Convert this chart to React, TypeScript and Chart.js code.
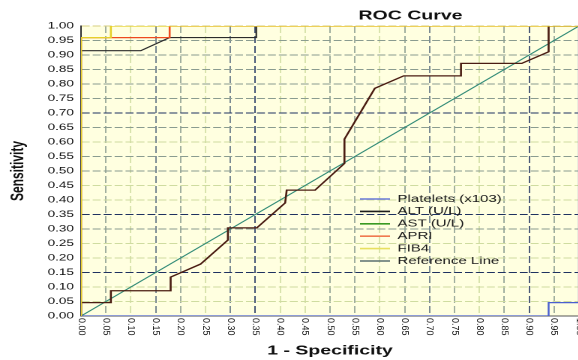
import { useEffect, useRef } from 'react';
import { Chart, registerables } from 'chart.js';

Chart.register(...registerables);

// ---------- data ----------
const seriesNames = ['Platelets (x103)', 'ALT (U/L)', 'AST (U/L)', 'APRI', 'FIB4', 'Reference Line'];

const plateletsFpr = [0, 0.939, 0.939, 1, 1];
const plateletsTpr = [0, 0, 0.046, 0.046, 1];

const altFpr = [0, 0, 0.06, 0.06, 0.18, 0.18, 0.24, 0.295, 0.295, 0.353, 0.41, 0.413, 0.47, 0.529, 0.529, 0.59, 0.648, 0.763, 0.763, 0.885, 0.939, 0.939, 1];
const altTpr = [0, 0.046, 0.046, 0.087, 0.087, 0.134, 0.179, 0.262, 0.304, 0.304, 0.39, 0.434, 0.434, 0.526, 0.61, 0.785, 0.828, 0.828, 0.871, 0.871, 0.911, 1, 1];

const astFpr = [0, 0, 0.12, 0.178, 0.352, 0.352, 1];
const astTpr = [0, 0.915, 0.915, 0.96, 0.96, 1, 1];

const apriFpr = [0, 0, 0.178, 0.178, 1];
const apriTpr = [0, 0.96, 0.96, 1, 1];

const fib4Fpr = [0, 0, 0.06, 0.06, 1];
const fib4Tpr = [0, 0.96, 0.96, 1, 1];

const refFpr = [0, 1];
const refTpr = [0, 1];

// ---------- styles ----------
const S = 1.5; // horizontal stretch of the whole picture
const FONT = "'Liberation Sans', Arial, sans-serif";
const CHART_W = 392;
const CHART_H = 360;

const lineColors = ['#4a5fd0', '#4a1c12', '#2b2b2b', '#ee4a1e', '#e6d02a', '#2f8a76'];
const legendColors = ['#6a7ad8', '#1c1c1c', '#3a9a22', '#f07a50', '#e8e060', '#5a7070'];
const lineWidths = [1.2, 1.3, 1.1, 1.3, 1.3, 1];
const drawOrder = [1, 2, 4, 3, 0, 5];

const gridPalette: Record<string, string> = {
  none: 'rgba(0,0,0,0)',
  L: '#cfdca0',
  G: '#8a9c90',
  M: '#5a6e80',
  D: '#1e3160',
  T: '#d8d080',
};
const xGridKinds = ['none', 'G', 'L', 'M', 'G', 'L', 'M', 'D', 'L', 'L', 'G', 'G', 'L', 'G', 'M', 'G', 'L', 'G', 'D', 'G', 'G'];
const yGridKinds = ['none', 'L', 'L', 'D', 'L', 'L', 'G', 'D', 'L', 'L', 'G', 'G', 'L', 'G', 'D', 'G', 'G', 'G', 'G', 'G', 'T'];

const TITLE_CX = 273.7;
const LEGEND_LEFT = 237.6;
const LEGEND_TOP = 191.6;

const customPlugin = {
  id: 'rocCustom',
  afterLayout(chart: any) {
    const t = chart.titleBlock;
    if (t) {
      const w = t.right - t.left;
      t.left = TITLE_CX - w / 2;
      t.right = t.left + w;
    }
    const lg = chart.legend;
    if (lg) {
      const w = lg.width;
      const h = lg.height;
      lg.left = LEGEND_LEFT;
      lg.top = LEGEND_TOP;
      lg.right = lg.left + w;
      lg.bottom = lg.top + h;
    }
  },
  beforeDraw(chart: any) {
    const { ctx, chartArea: a } = chart;
    ctx.save();
    ctx.fillStyle = '#ffffff';
    ctx.fillRect(0, 0, chart.width, chart.height);
    ctx.fillStyle = '#ffffe0';
    ctx.fillRect(a.left, a.top, a.right - a.left, a.bottom - a.top);
    ctx.restore();
  },
  afterDraw(chart: any) {
    const xs = chart.scales.x;
    const ctx = chart.ctx;
    ctx.save();
    ctx.fillStyle = '#111111';
    ctx.font = `9px ${FONT}`;
    ctx.textAlign = 'left';
    ctx.textBaseline = 'middle';
    xs.ticks.forEach((t: any) => {
      const px = xs.getPixelForValue(t.value);
      ctx.save();
      ctx.translate(px, xs.top + 2);
      ctx.scale(1 / S, 1);
      ctx.rotate(Math.PI / 2);
      ctx.fillText(Number(t.value).toFixed(2), 0, 0);
      ctx.restore();
    });
    ctx.restore();
  },
};

export default function App() {
  const ref = useRef<HTMLCanvasElement>(null);

  useEffect(() => {
    const canvas = ref.current;
    if (!canvas) return;
    Chart.defaults.font.family = FONT;

    const pts = (xs: number[], ys: number[]) => xs.map((x, i) => ({ x, y: ys[i] }));
    const series = [
      [plateletsFpr, plateletsTpr],
      [altFpr, altTpr],
      [astFpr, astTpr],
      [apriFpr, apriTpr],
      [fib4Fpr, fib4Tpr],
      [refFpr, refTpr],
    ];
    const datasets = series.map(([xs, ys], i) => ({
      label: seriesNames[i],
      data: pts(xs, ys),
      borderColor: lineColors[i],
      backgroundColor: lineColors[i],
      borderWidth: lineWidths[i],
      pointRadius: 0,
      pointHoverRadius: 0,
      tension: 0,
      fill: false,
      order: drawOrder[i],
    }));

    const chart = new Chart(canvas, {
      type: 'line',
      data: { datasets },
      plugins: [customPlugin],
      options: {
        animation: false,
        responsive: true,
        maintainAspectRatio: false,
        devicePixelRatio: 2,
        events: [],
        layout: { padding: { left: 0, right: 6, top: 0, bottom: 0 } },
        plugins: {
          title: {
            display: true,
            text: 'ROC Curve',
            color: '#111111',
            font: { family: FONT, size: 13, weight: 'bold' },
            padding: { top: 8.2, bottom: 2.2 },
          },
          legend: {
            position: 'chartArea',
            align: 'start',
            labels: {
              usePointStyle: true,
              pointStyle: 'line',
              pointStyleWidth: 20,
              boxHeight: 10,
              padding: 2.4,
              color: '#1a1a1a',
              font: { family: FONT, size: 10 },
              generateLabels: (c: any) =>
                Chart.defaults.plugins.legend.labels.generateLabels(c).map((it: any) => ({
                  ...it,
                  strokeStyle: legendColors[it.datasetIndex],
                  fillStyle: legendColors[it.datasetIndex],
                  lineWidth: 1.6,
                  pointStyle: 'line',
                })),
              sort: (a: any, b: any) => a.datasetIndex - b.datasetIndex,
            },
          },
          tooltip: { enabled: false },
        },
        scales: {
          x: {
            type: 'linear',
            min: 0,
            max: 1,
            ticks: { display: false, stepSize: 0.05 },
            grid: {
              color: (ctx: any) => gridPalette[xGridKinds[ctx.index] || 'G'],
              lineWidth: 0.8,
              drawTicks: false,
            },
            border: { display: true, color: '#555555', width: 1, dash: [7, 3] },
            title: {
              display: true,
              text: '1 - Specificity',
              color: '#111111',
              font: { family: FONT, size: 13, weight: 'bold' },
              padding: { top: 0, bottom: 1.2 },
            },
            afterFit: (s: any) => {
              s.height = 44;
            },
          },
          y: {
            type: 'linear',
            min: 0,
            max: 1,
            ticks: {
              stepSize: 0.05,
              padding: 4.7,
              color: '#111111',
              font: { family: FONT, size: 9 },
              callback: (v: any) => Number(v).toFixed(2),
            },
            grid: {
              color: (ctx: any) => gridPalette[yGridKinds[ctx.index] || 'G'],
              lineWidth: 1,
              drawTicks: false,
            },
            border: { display: true, color: '#333333', width: 1, dash: [5.3, 2] },
            title: {
              display: true,
              text: 'Sensitivity',
              color: '#111111',
              font: { family: FONT, size: 12, weight: 'bold' },
              padding: { top: 4.8, bottom: 0 },
            },
            afterFit: (s: any) => {
              s.width = 54;
            },
          },
        },
      } as any,
    });
    return () => chart.destroy();
  }, []);

  return (
    <div
      style={{
        position: 'fixed',
        left: 0,
        top: 0,
        width: 578,
        height: 360,
        overflow: 'hidden',
        background: '#ffffff',
      }}
    >
      <div
        style={{
          position: 'absolute',
          left: 0,
          top: 0,
          width: CHART_W,
          height: CHART_H,
          transform: `scaleX(${S})`,
          transformOrigin: 'left top',
        }}
      >
        <canvas ref={ref} style={{ display: 'block' }} />
      </div>
    </div>
  );
}
